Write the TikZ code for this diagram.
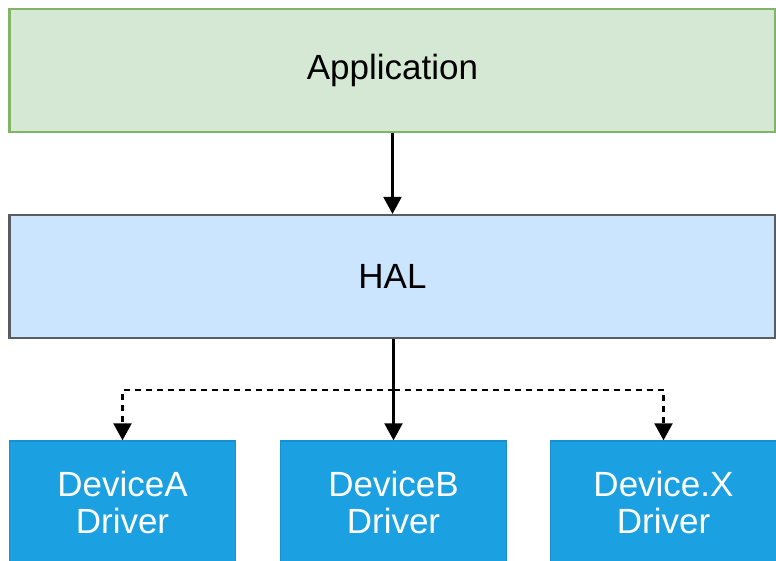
\documentclass[tikz,border=0pt]{standalone}
\usepackage{fontspec}
\setmainfont{Liberation Sans}
\usetikzlibrary{arrows.meta}
\definecolor{appfill}{HTML}{D5E8D4}
\definecolor{appline}{HTML}{82B366}
\definecolor{halfill}{HTML}{CCE5FF}
\definecolor{halline}{HTML}{5A5C60}
\definecolor{drvfill}{HTML}{1BA1E2}
\definecolor{drvline}{HTML}{1A8FD0}
\tikzset{
	layer/.style={rectangle, line width=2.2pt, minimum width=766pt, minimum height=123pt, inner sep=0pt, font=\fontsize{35}{38}\selectfont},
	appbox/.style={layer, draw=appline, fill=appfill},
	halbox/.style={layer, draw=halline, fill=halfill},
	drvbox/.style={rectangle, draw=drvline, fill=drvfill, line width=1.4pt, minimum width=226pt, minimum height=123pt, inner sep=0pt, text=white, align=center, font=\fontsize{35}{37.5}\selectfont},
	flow/.style={line width=2.2pt, -{Triangle[length=17pt,width=18pt]}},
}
\begin{document}
\begin{tikzpicture}[x=1pt,y=-1pt]
	\useasboundingbox (0,0) rectangle (776,560);
	%layers
	\node[appbox] (app) at (392.5, 70.5){Application};
	\node[halbox] (hal) at (392.5, 276.5){HAL};
	
	%drivers
	\node[drvbox] (drva) at (122.5, 502.5){DeviceA\\Driver};
	\node[drvbox] (drvb) at (393.5, 502.5){DeviceB\\Driver};
	\node[drvbox] (drvx) at (663.5, 502.5){Device.X\\Driver};
	
	\coordinate (split) at (393.5, 390);
	
	\draw[flow] (app) -- (hal);
	\draw[flow] (hal.south -| drvb) -- (drvb);
	\draw[flow, dash pattern=on 6pt off 5pt] (split) -| (drva);
	\draw[flow, dash pattern=on 6pt off 5pt] (split) -| (drvx);
\end{tikzpicture}
\end{document}
